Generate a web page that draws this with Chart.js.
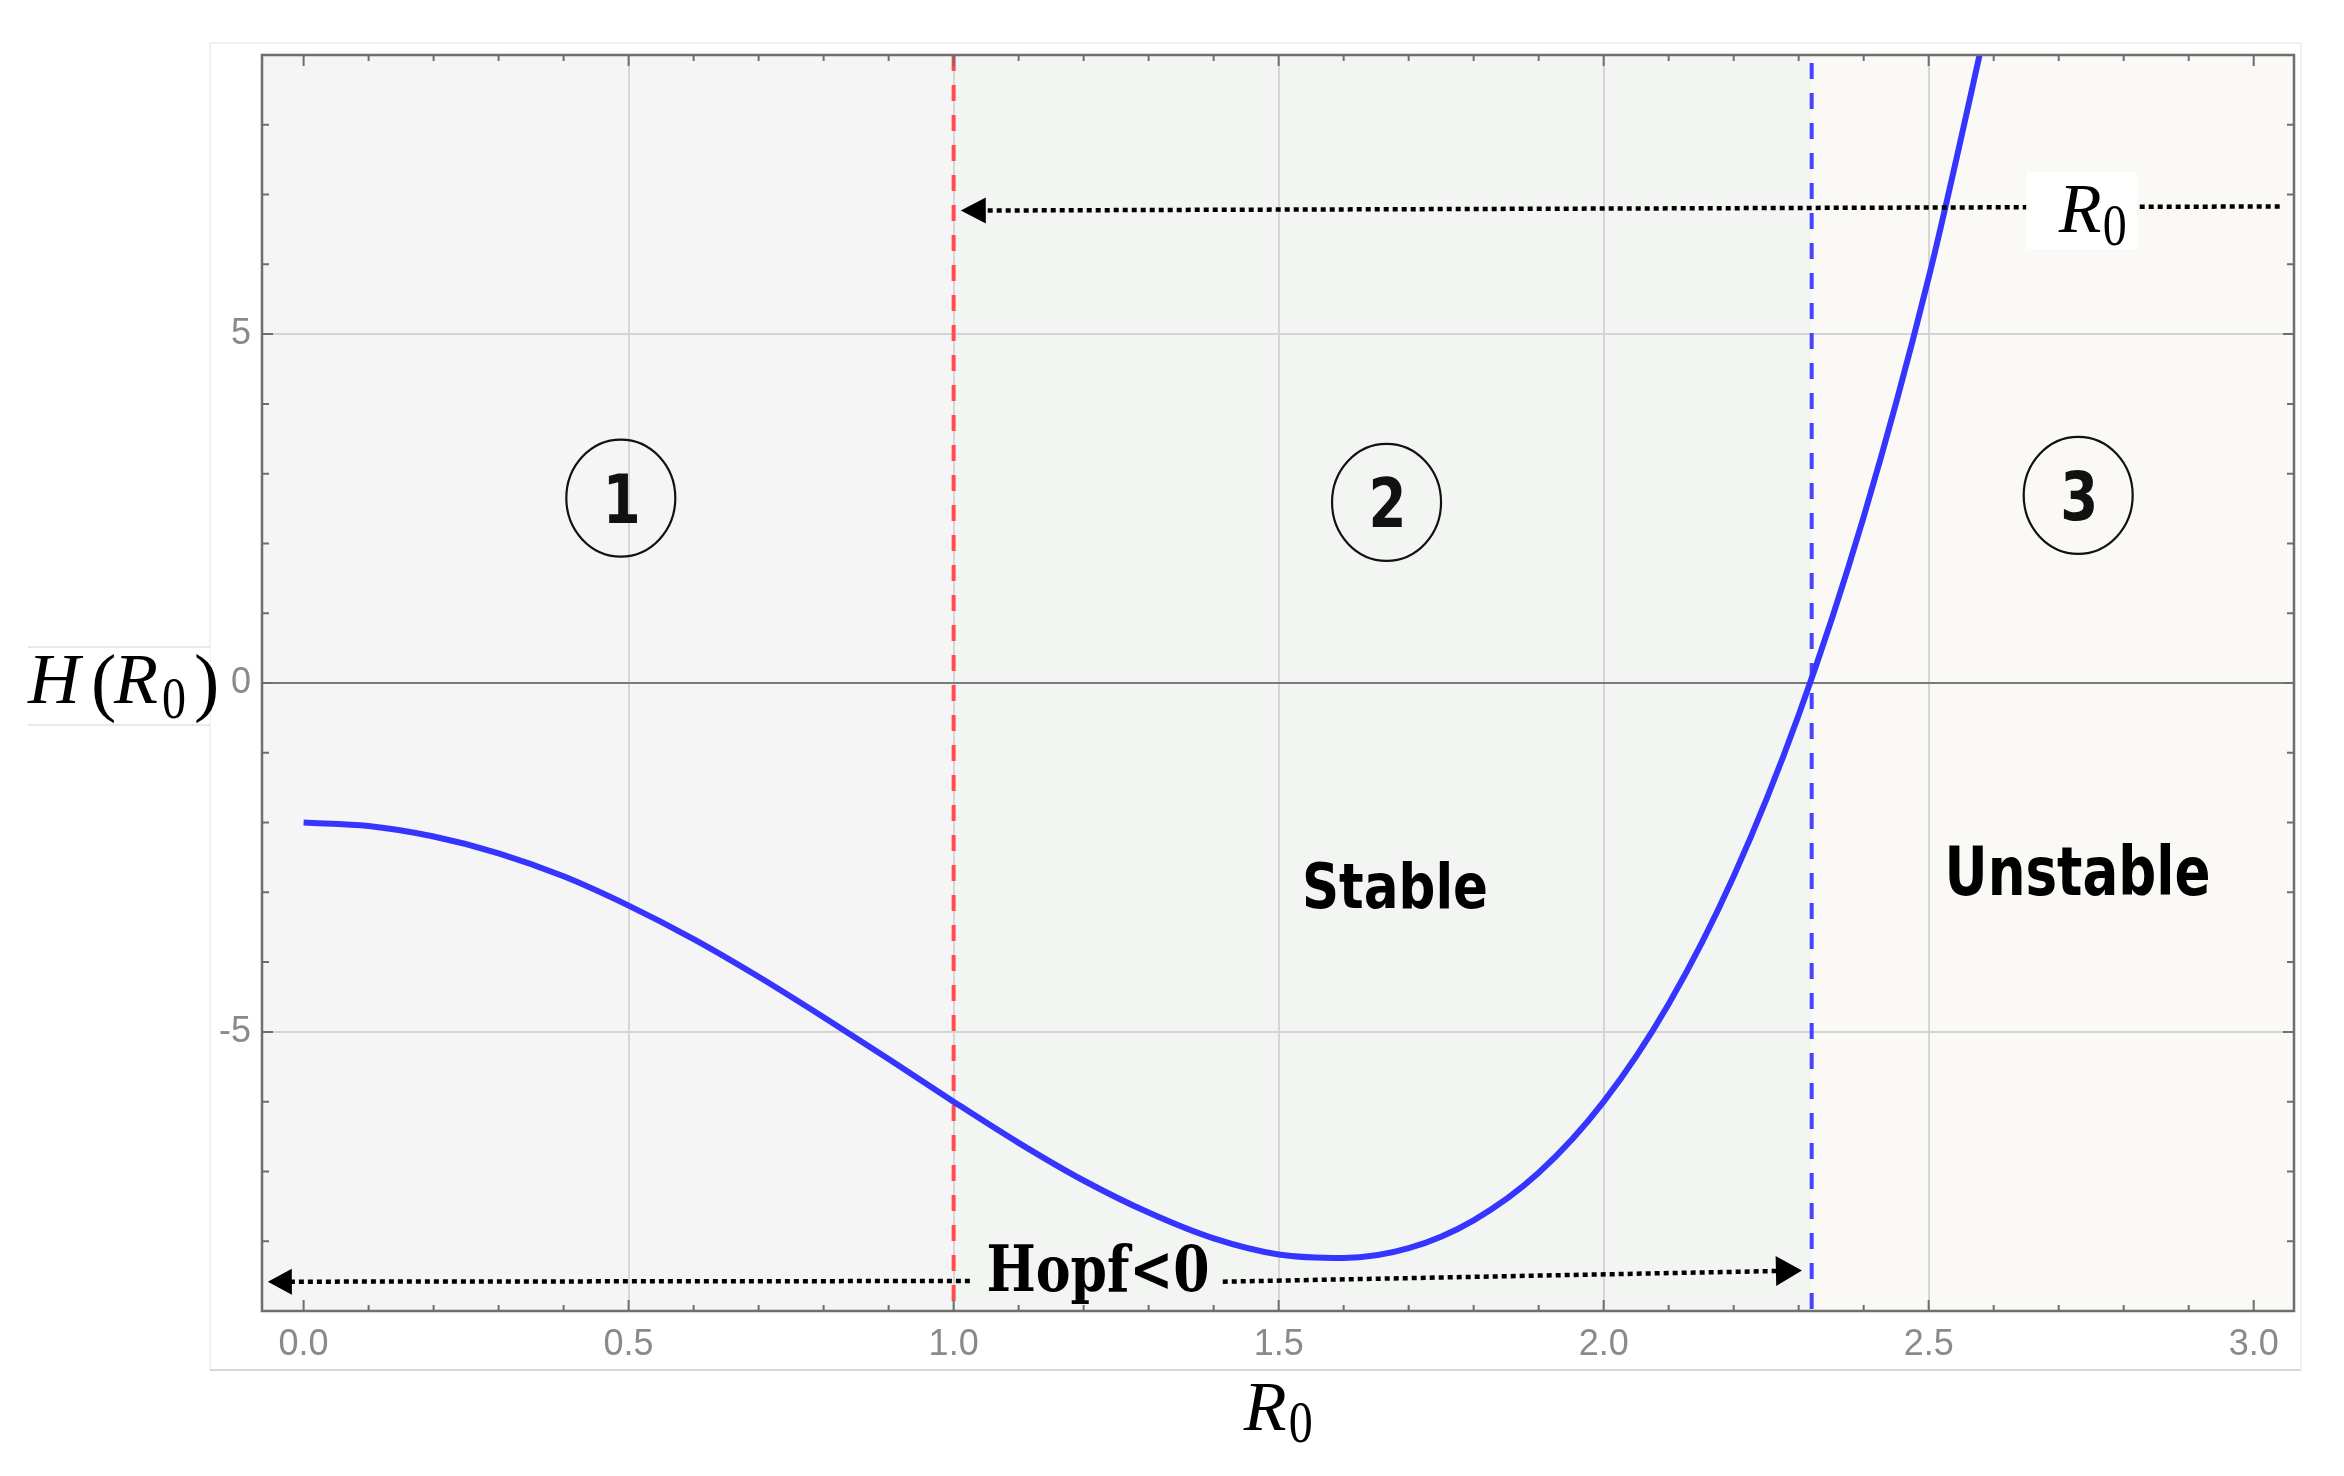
<!DOCTYPE html>
<html><head><meta charset="utf-8">
<script src="https://cdn.jsdelivr.net/npm/chart.js@4.4.1/dist/chart.umd.min.js"></script>
<style>html,body{margin:0;padding:0;background:#fff}canvas{display:block}</style>
</head><body>
<canvas id="c" width="2344" height="1476"></canvas>
<script>
// ---- data ----
const R0_VALUES = [0.0,0.1,0.2,0.3,0.4,0.5,0.6,0.7,0.8,0.9,1.0,1.1,1.2,1.3,1.4,1.5,1.6,1.7,1.8,1.9,2.0,2.1,2.2,2.3,2.4,2.5,2.6];
const H_VALUES  = [-2.00,-2.05,-2.20,-2.44,-2.77,-3.19,-3.67,-4.21,-4.79,-5.39,-6.00,-6.59,-7.13,-7.59,-7.96,-8.19,-8.24,-8.10,-7.70,-7.02,-6.00,-4.60,-2.77,-0.46,2.38,5.81,9.90];
const X_TICKS = [0,0.5,1,1.5,2,2.5,3];
const X_TICK_LABELS = ['0.0','0.5','1.0','1.5','2.0','2.5','3.0'];
const Y_TICKS = [-5,0,5];
const Y_TICK_LABELS = ['-5','0','5'];
const HOPF_LINE = 1.0;        // red dashed
const THRESHOLD_LINE = 2.32;  // blue dashed
const REGION_NUMBERS = ['1','2','3'];
const STATE_LABELS = ['Stable','Unstable'];
const HOPF_LABEL = 'Hopf<0';

const X_MIN = -0.064, X_MAX = 3.062, Y_MIN = -9, Y_MAX = 9;

function fitText(ctx, str, cx, baseline, font, targetW) {
  ctx.font = font;
  const w = ctx.measureText(str).width;
  ctx.save();
  ctx.translate(cx, baseline);
  ctx.scale(targetW / w, 1);
  ctx.textAlign = 'center';
  ctx.textBaseline = 'alphabetic';
  ctx.fillText(str, 0, 0);
  ctx.restore();
}
function dottedArrow(ctx, x1, y1, x2, y2, headLen, headW) {
  const a = Math.atan2(y2 - y1, x2 - x1);
  const bx = x2 - headLen * Math.cos(a), by = y2 - headLen * Math.sin(a);
  ctx.save();
  ctx.strokeStyle = '#000'; ctx.fillStyle = '#000';
  ctx.lineWidth = 4.5; ctx.setLineDash([5, 4]);
  ctx.beginPath(); ctx.moveTo(x1, y1); ctx.lineTo(bx + 2 * Math.cos(a), by + 2 * Math.sin(a)); ctx.stroke();
  ctx.setLineDash([]);
  const px = -Math.sin(a) * headW / 2, py = Math.cos(a) * headW / 2;
  ctx.beginPath(); ctx.moveTo(x2, y2); ctx.lineTo(bx + px, by + py); ctx.lineTo(bx - px, by - py); ctx.closePath(); ctx.fill();
  ctx.restore();
}
function drawSubLabel(ctx, left, baseline, main, sub, mainSize, subSize, subDx, subDy) {
  ctx.save();
  ctx.fillStyle = '#000';
  ctx.textAlign = 'left'; ctx.textBaseline = 'alphabetic';
  ctx.font = 'italic ' + mainSize + 'px "Liberation Serif"';
  ctx.fillText(main, left, baseline);
  ctx.font = subSize + 'px "Liberation Serif"';
  ctx.save(); ctx.translate(left + subDx, baseline + subDy); ctx.scale(0.8, 1); ctx.fillText(sub, 0, 0); ctx.restore();
  ctx.restore();
}

const decor = {
  id: 'decor',
  beforeDraw(chart) {
    const {ctx, chartArea: ca, scales: {x}} = chart;
    ctx.save();
    ctx.fillStyle = '#fff'; ctx.fillRect(0, 0, chart.width, chart.height);
    ctx.strokeStyle = '#ececec'; ctx.lineWidth = 1.5;
    ctx.strokeRect(ca.left - 52, ca.top - 12, ca.right - ca.left + 59, ca.bottom - ca.top + 71);
    ctx.strokeStyle = '#cfcfcf';
    ctx.beginPath(); ctx.moveTo(ca.left - 52, ca.bottom + 59); ctx.lineTo(ca.right + 7, ca.bottom + 59); ctx.stroke();
    const xh = x.getPixelForValue(HOPF_LINE), xt = x.getPixelForValue(THRESHOLD_LINE);
    ctx.fillStyle = '#f5f5f5'; ctx.fillRect(ca.left, ca.top, xh - ca.left, ca.bottom - ca.top);
    ctx.fillStyle = '#f3f5f3'; ctx.fillRect(xh, ca.top, xt - xh, ca.bottom - ca.top);
    ctx.fillStyle = '#faf9f6'; ctx.fillRect(xt, ca.top, ca.right - xt, ca.bottom - ca.top);
    ctx.restore();
  },
  beforeDatasetsDraw(chart) {
    const {ctx, chartArea: ca, scales: {x}} = chart;
    ctx.save();
    ctx.lineWidth = 4; ctx.setLineDash([16, 14]);
    ctx.strokeStyle = '#ff4d4d';
    let px = x.getPixelForValue(HOPF_LINE);
    ctx.beginPath(); ctx.moveTo(px, ca.top); ctx.lineTo(px, ca.bottom); ctx.stroke();
    ctx.strokeStyle = '#4545ff';
    px = x.getPixelForValue(THRESHOLD_LINE);
    ctx.beginPath(); ctx.moveTo(px, ca.top + 8); ctx.lineTo(px, ca.bottom); ctx.stroke();
    ctx.restore();
  },
  afterDraw(chart) {
    const {ctx, chartArea: ca, scales: {x, y}} = chart;
    const X = v => x.getPixelForValue(v), Y = v => y.getPixelForValue(v);
    ctx.save();
    ctx.strokeStyle = '#6e6e6e'; ctx.lineWidth = 2.5;
    ctx.strokeRect(ca.left, ca.top, ca.right - ca.left, ca.bottom - ca.top);
    ctx.lineWidth = 2;
    ctx.beginPath();
    for (let i = 0; i <= 30; i++) {
      const p = X(i / 10), L = (i % 5 === 0) ? 11 : 6;
      ctx.moveTo(p, ca.bottom); ctx.lineTo(p, ca.bottom - L);
      ctx.moveTo(p, ca.top); ctx.lineTo(p, ca.top + L);
    }
    for (let j = -8; j <= 8; j++) {
      const p = Y(j), L = (j % 5 === 0) ? 11 : 7;
      ctx.moveTo(ca.left, p); ctx.lineTo(ca.left + L, p);
      ctx.moveTo(ca.right, p); ctx.lineTo(ca.right - L, p);
    }
    ctx.stroke();

    const circles = [[0.488, 2.65], [1.666, 2.59], [2.730, 2.69]];
    circles.forEach((c, i) => {
      const cx = X(c[0]), cy = Y(c[1]);
      ctx.strokeStyle = '#111'; ctx.lineWidth = 2.2;
      ctx.beginPath(); ctx.ellipse(cx, cy, 54.5, 58.5, 0, 0, Math.PI * 2); ctx.stroke();
      ctx.fillStyle = '#111';
      fitText(ctx, REGION_NUMBERS[i], cx + 1, cy + 25, 'bold 68px "DejaVu Sans"', 38);
    });
    ctx.fillStyle = '#000';
    fitText(ctx, STATE_LABELS[0], X(1.679), Y(-3.23), 'bold 62px "DejaVu Sans"', 186);
    fitText(ctx, STATE_LABELS[1], X(2.729), Y(-3.04), 'bold 67px "DejaVu Sans"', 266);

    dottedArrow(ctx, X(1.025), Y(-8.57), X(-0.055), Y(-8.58), 24, 26);
    dottedArrow(ctx, X(1.414), Y(-8.58), X(2.305), Y(-8.42), 26, 30);
    ctx.fillStyle = '#000';
    fitText(ctx, HOPF_LABEL, X(1.222), Y(-8.72), 'bold 63px "DejaVu Serif"', 223);

    dottedArrow(ctx, X(3.04), Y(6.83), X(1.011), Y(6.77), 25, 26);
    const bx1 = X(2.65), bx2 = X(2.82);
    ctx.fillStyle = '#fff';
    ctx.fillRect(bx1, Y(7.32), bx2 - bx1, Y(6.22) - Y(7.32));
    drawSubLabel(ctx, X(2.700), Y(6.47), 'R', '0', 70, 60, 44, 13);

    ctx.fillStyle = '#fff';
    ctx.fillRect(X(1.5) - 37, ca.bottom + 60, 75, 75);
    drawSubLabel(ctx, X(1.5) - 35, ca.bottom + 119, 'R', '0', 70, 60, 45, 12);

    const yb = Y(0) + 20, lx = ca.left;
    ctx.fillStyle = '#fff';
    ctx.fillRect(lx - 234, Y(0) - 36, 182, 78);
    ctx.strokeStyle = '#d4d4d4'; ctx.lineWidth = 1.2;
    ctx.beginPath();
    ctx.moveTo(lx - 234, Y(0) - 36); ctx.lineTo(lx - 52, Y(0) - 36);
    ctx.moveTo(lx - 234, Y(0) + 42); ctx.lineTo(lx - 52, Y(0) + 42);
    ctx.stroke();
    ctx.fillStyle = '#000'; ctx.textAlign = 'left'; ctx.textBaseline = 'alphabetic';
    ctx.font = 'italic 72px "Liberation Serif"';
    ctx.fillText('H', lx - 234, yb);
    ctx.font = '76px "Liberation Serif"';
    ctx.fillText('(', lx - 171, yb + 4);
    ctx.font = 'italic 72px "Liberation Serif"';
    ctx.fillText('R', lx - 148, yb);
    ctx.font = '60px "Liberation Serif"';
    ctx.save(); ctx.translate(lx - 100, yb + 15); ctx.scale(0.8, 1); ctx.fillText('0', 0, 0); ctx.restore();
    ctx.font = '76px "Liberation Serif"';
    ctx.fillText(')', lx - 68, yb + 4);
    ctx.restore();
  }
};

const points = R0_VALUES.map((r, i) => ({x: r, y: H_VALUES[i]}));

new Chart(document.getElementById('c'), {
  type: 'line',
  data: { datasets: [{
    data: points,
    borderColor: '#3535ff',
    borderWidth: 6,
    pointRadius: 0,
    cubicInterpolationMode: 'monotone',
    fill: false,
    clip: 0
  }]},
  options: {
    responsive: false,
    devicePixelRatio: 1,
    animation: false,
    layout: { padding: { left: 202, right: 50, top: 55, bottom: 65 } },
    plugins: { legend: { display: false }, tooltip: { enabled: false }, title: { display: false } },
    scales: {
      x: {
        type: 'linear', min: X_MIN, max: X_MAX,
        afterBuildTicks: s => { s.ticks = X_TICKS.map(v => ({value: v})); },
        afterFit: s => { s.height = 100; },
        grid: { color: c => (c.tick && (c.tick.value === 0 || c.tick.value === 3)) ? 'rgba(0,0,0,0)' : '#d6d6d6', lineWidth: 2, drawTicks: false },
        border: { display: false },
        ticks: {
          padding: 12, color: '#8a8a8a', font: { family: '"Liberation Sans"', size: 36 },
          maxRotation: 0, autoSkip: false,
          callback: v => X_TICK_LABELS[X_TICKS.indexOf(v)] ?? ''
        }
      },
      y: {
        type: 'linear', min: Y_MIN, max: Y_MAX,
        afterBuildTicks: s => { s.ticks = Y_TICKS.map(v => ({value: v})); },
        afterFit: s => { s.width = 60; },
        grid: { color: c => (c.tick && c.tick.value === 0) ? '#7a7a7a' : '#d4d4d4', lineWidth: 2, drawTicks: false },
        border: { display: false },
        ticks: {
          padding: 11, color: '#8a8a8a', font: { family: '"Liberation Sans"', size: 36 },
          autoSkip: false,
          callback: v => Y_TICK_LABELS[Y_TICKS.indexOf(v)] ?? ''
        }
      }
    }
  },
  plugins: [decor]
});
</script>
</body></html>
